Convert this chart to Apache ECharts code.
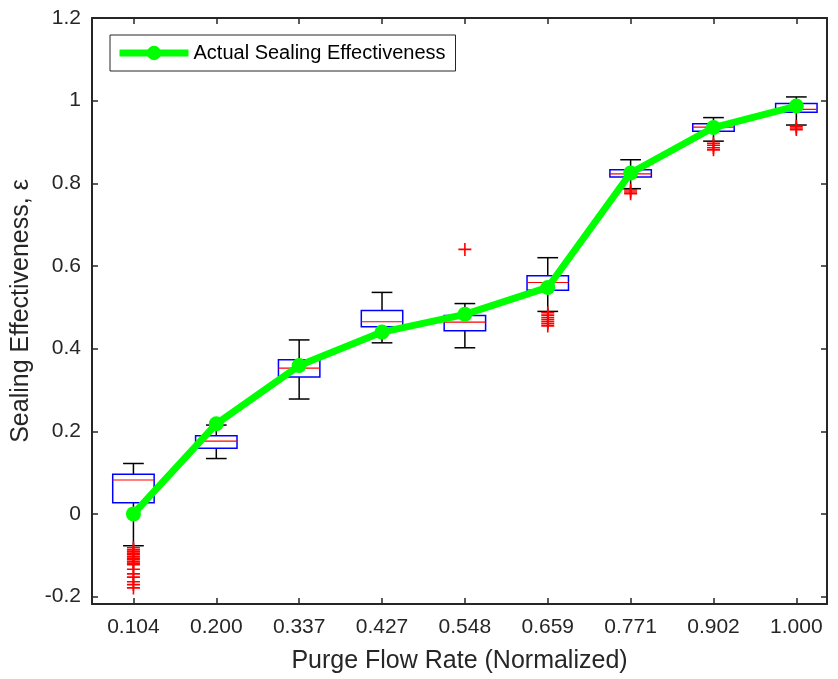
<!DOCTYPE html>
<html>
<head>
<meta charset="utf-8">
<script src="https://cdn.jsdelivr.net/npm/echarts@6/dist/echarts.min.js"></script>
<style>
  html, body { margin: 0; padding: 0; background: #fff; }
  #chart { width: 838px; height: 679px; }
</style>
</head>
<body>
<div id="chart"></div>
<script>
// Purge flow rates (normalized), one box per setting
const flowRates = ['0.104', '0.200', '0.337', '0.427', '0.548', '0.659', '0.771', '0.902', '1.000'];

// Box statistics per flow rate: lower whisker, Q1, median, Q3, upper whisker
const whiskerLow  = [-0.077, 0.134, 0.278, 0.414, 0.402, 0.490, 0.787, 0.902, 0.941];
const quartile1   = [ 0.027, 0.159, 0.331, 0.453, 0.443, 0.541, 0.815, 0.926, 0.972];
const medians     = [ 0.082, 0.176, 0.353, 0.465, 0.464, 0.560, 0.823, 0.936, 0.979];
const quartile3   = [ 0.096, 0.189, 0.373, 0.492, 0.480, 0.576, 0.833, 0.944, 0.993];
const whiskerHigh = [ 0.122, 0.215, 0.421, 0.536, 0.509, 0.620, 0.857, 0.959, 1.009];

// Outliers: [flow-rate index, effectiveness]
const outliers = [
  [0, -0.082], [0, -0.087], [0, -0.091], [0, -0.095], [0, -0.099], [0, -0.103],
  [0, -0.107], [0, -0.111], [0, -0.115], [0, -0.119], [0, -0.123], [0, -0.134],
  [0, -0.145], [0, -0.153], [0, -0.164], [0, -0.171], [0, -0.179],
  [4, 0.640],
  [5, 0.487], [5, 0.481], [5, 0.475], [5, 0.470], [5, 0.465], [5, 0.460], [5, 0.455],
  [6, 0.784], [6, 0.779], [6, 0.775],
  [7, 0.897], [7, 0.892], [7, 0.886], [7, 0.881],
  [8, 0.938], [8, 0.934], [8, 0.930]
];

// Measured sealing effectiveness at each flow rate
const actualEffectiveness = [0.000, 0.218, 0.359, 0.440, 0.483, 0.548, 0.825, 0.935, 0.987];

// Y tick values
const yTicks = [-0.2, 0, 0.2, 0.4, 0.6, 0.8, 1.0, 1.2];

const FONT = "'Liberation Sans', Arial, Helvetica, sans-serif";
const INK = '#262626';
const xIdx = flowRates.map((_, i) => i);

const boxData = flowRates.map((_, i) =>
  [i, whiskerLow[i], quartile1[i], medians[i], quartile3[i], whiskerHigh[i]]);

function fmtY(v) {
  const r = Math.round(v * 10) / 10;
  return String(r);
}

function renderBox(params, api) {
  const x = api.value(0);
  const pLo = api.coord([x, api.value(1)]);
  const pQ1 = api.coord([x, api.value(2)]);
  const pMed = api.coord([x, api.value(3)]);
  const pQ3 = api.coord([x, api.value(4)]);
  const pHi = api.coord([x, api.value(5)]);
  const halfBox = api.size([0.5, 0])[0] / 2;
  const halfCap = api.size([0.25, 0])[0] / 2;
  const cx = pMed[0];
  const black = { stroke: '#000', lineWidth: 1.5 };
  return {
    type: 'group',
    children: [
      { type: 'line', shape: { x1: cx, y1: pQ3[1], x2: cx, y2: pHi[1] }, style: black },
      { type: 'line', shape: { x1: cx, y1: pQ1[1], x2: cx, y2: pLo[1] }, style: black },
      { type: 'line', shape: { x1: cx - halfCap, y1: pHi[1], x2: cx + halfCap, y2: pHi[1] }, style: black },
      { type: 'line', shape: { x1: cx - halfCap, y1: pLo[1], x2: cx + halfCap, y2: pLo[1] }, style: black },
      { type: 'rect', shape: { x: cx - halfBox, y: pQ3[1], width: 2 * halfBox, height: pQ1[1] - pQ3[1] },
        style: { fill: 'none', stroke: '#0000ff', lineWidth: 1.5 } },
      { type: 'line', shape: { x1: cx - halfBox, y1: pMed[1], x2: cx + halfBox, y2: pMed[1] },
        style: { stroke: '#ff0000', lineWidth: 1.2 } }
    ]
  };
}

const chart = echarts.init(document.getElementById('chart'), null, { renderer: 'canvas' });

const xMin = -0.5, xMax = 8.37, yMin = -0.218, yMax = 1.2;

chart.setOption({
  animation: false,
  backgroundColor: '#fff',
  textStyle: { fontFamily: FONT },
  grid: { left: 92, right: 11, top: 18, bottom: 75 },
  legend: {
    data: ['Actual Sealing Effectiveness'],
    left: 110, top: 35,
    padding: [8, 10, 8, 6],
    itemWidth: 69, itemHeight: 18, itemGap: 6,
    lineStyle: { width: 7, color: '#00ff00' },
    borderColor: INK, borderWidth: 1, backgroundColor: '#fff',
    textStyle: { fontFamily: FONT, fontSize: 20, color: '#000' }
  },
  xAxis: [
    {
      type: 'value', min: xMin, max: xMax, position: 'bottom',
      name: 'Purge Flow Rate (Normalized)', nameLocation: 'middle', nameGap: 45,
      nameTextStyle: { fontFamily: FONT, fontSize: 25, color: INK },
      splitLine: { show: false },
      axisLine: { show: true, onZero: false, lineStyle: { color: INK, width: 2 } },
      axisTick: { show: true, inside: true, length: 6, customValues: xIdx, lineStyle: { color: INK, width: 1.5 } },
      axisLabel: { customValues: xIdx, margin: 13, fontFamily: FONT, fontSize: 21, color: INK,
        formatter: v => flowRates[Math.round(v)] }
    },
    {
      type: 'value', min: xMin, max: xMax, position: 'top',
      splitLine: { show: false },
      axisLine: { show: true, onZero: false, lineStyle: { color: INK, width: 2 } },
      axisTick: { show: true, inside: true, length: 6, customValues: xIdx, lineStyle: { color: INK, width: 1.5 } },
      axisLabel: { show: false }
    }
  ],
  yAxis: [
    {
      type: 'value', min: yMin, max: yMax, position: 'left',
      name: 'Sealing Effectiveness, ε', nameLocation: 'middle', nameGap: 53,
      nameTextStyle: { fontFamily: FONT, fontSize: 25, color: INK },
      splitLine: { show: false },
      axisLine: { show: true, onZero: false, lineStyle: { color: INK, width: 2 } },
      axisTick: { show: true, inside: true, length: 6, customValues: yTicks, lineStyle: { color: INK, width: 1.5 } },
      axisLabel: { customValues: yTicks, margin: 11, fontFamily: FONT, fontSize: 21, color: INK, formatter: fmtY }
    },
    {
      type: 'value', min: yMin, max: yMax, position: 'right',
      splitLine: { show: false },
      axisLine: { show: true, onZero: false, lineStyle: { color: INK, width: 2 } },
      axisTick: { show: true, inside: true, length: 6, customValues: yTicks, lineStyle: { color: INK, width: 1.5 } },
      axisLabel: { show: false }
    }
  ],
  series: [
    {
      name: 'boxes', type: 'custom', xAxisIndex: 0, yAxisIndex: 0,
      renderItem: renderBox, data: boxData, z: 2, silent: true
    },
    {
      name: 'outliers', type: 'scatter', xAxisIndex: 0, yAxisIndex: 0,
      data: outliers, symbol: 'path://M0,-1L0,1M-1,0L1,0', symbolSize: 13,
      itemStyle: { color: 'none', borderColor: '#ff0000', borderWidth: 1.6, opacity: 1 },
      z: 3, silent: true
    },
    {
      name: 'Actual Sealing Effectiveness', type: 'line', xAxisIndex: 0, yAxisIndex: 0,
      data: actualEffectiveness.map((v, i) => [i, v]),
      symbol: 'circle', symbolSize: 15, showSymbol: true,
      lineStyle: { color: '#00ff00', width: 7 },
      itemStyle: { color: '#00ff00', borderColor: '#00ff00', borderWidth: 0 },
      z: 4
    }
  ]
});
</script>
</body>
</html>
